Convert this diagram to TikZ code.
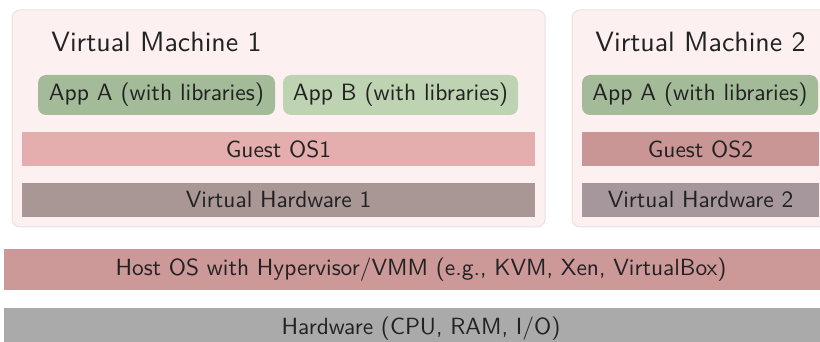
\documentclass[tikz,border=0pt]{standalone}
\usepackage{xcolor}
\usepackage{graphicx}
\definecolor{vmfill}{HTML}{FDF0F0}
\definecolor{vmdraw}{HTML}{E9E2E2}
\definecolor{appa}{HTML}{A3BB98}
\definecolor{appb}{HTML}{BDD3B1}
\definecolor{gos1}{HTML}{E3AEAD}
\definecolor{vhw1}{HTML}{A99795}
\definecolor{gos2}{HTML}{C99595}
\definecolor{vhw2}{HTML}{A5979C}
\definecolor{hostc}{HTML}{CC9898}
\definecolor{hwc}{HTML}{AAAAAA}
\definecolor{txt}{HTML}{222222}
\newcommand{\sctxt}[2]{\scalebox{#1}{\sffamily\fontsize{10}{12}\selectfont #2}}
\tikzset{
  vmbox/.style={draw=vmdraw, line width=1pt, fill=vmfill, rounded corners=8pt},
  appbox/.style={rounded corners=8pt, minimum height=40pt, inner sep=0pt, text=txt},
  layer/.style={minimum height=34pt, inner sep=0pt, text=txt},
  title/.style={text=txt, inner sep=0pt}
}
\begin{document}
\begin{tikzpicture}[x=1pt,y=-1pt]
\useasboundingbox (0,0) rectangle (820,342);
% VM1
\node[vmbox, minimum width=533pt, minimum height=217pt] (vm1) at (278.5,118.5) {};
\node[title] (t1) at (156.5,42) {\sctxt{2.79}{Virtual Machine 1}};
\node[appbox, fill=appa, minimum width=237pt] (a1) at (156.5,95) {\sctxt{2.36}{App A (with libraries)}};
\node[appbox, fill=appb, minimum width=235pt] (b1) at (400.5,95) {\sctxt{2.36}{App B (with libraries)}};
\node[layer, fill=gos1, minimum width=513pt] (g1) at (278.5,149) {\sctxt{2.34}{Guest OS1}};
\node[layer, fill=vhw1, minimum width=513pt] (h1) at (278.5,200) {\sctxt{2.34}{Virtual Hardware 1}};
% VM2
\node[vmbox, minimum width=258pt, minimum height=217pt] (vm2) at (701,118.5) {};
\node[title] (t2) at (700.5,42) {\sctxt{2.79}{Virtual Machine 2}};
\node[appbox, fill=appa, minimum width=236pt] (a2) at (700,95) {\sctxt{2.36}{App A (with libraries)}};
\node[layer, fill=gos2, minimum width=237pt] (g2) at (700.5,149) {\sctxt{2.34}{Guest OS2}};
\node[layer, fill=vhw2, minimum width=237pt] (h2) at (700.5,200) {\sctxt{2.34}{Virtual Hardware 2}};
% host & hardware
\node[layer, fill=hostc, minimum width=834pt, minimum height=41pt] (host) at (421,269.5) {\sctxt{2.34}{Host OS with Hypervisor/VMM (e.g., KVM, Xen, VirtualBox)}};
\node[layer, fill=hwc, minimum width=834pt, minimum height=41pt] (hw) at (421,328.5) {\sctxt{2.34}{Hardware (CPU, RAM, I/O)}};
\end{tikzpicture}
\end{document}
